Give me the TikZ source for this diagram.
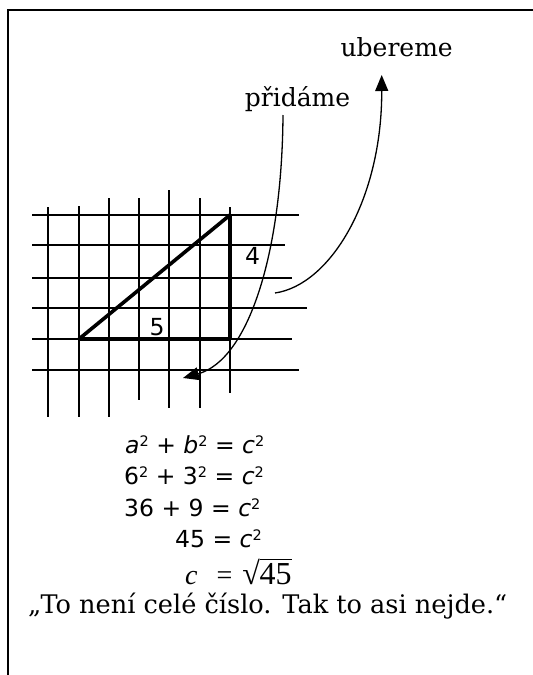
\documentclass[tikz,border=0pt]{standalone}
\usepackage{fontspec}
\setmainfont{DejaVu Serif}
\newfontfamily\eqf{DejaVu Sans}
\newfontfamily\tnr{Liberation Serif}
\usetikzlibrary{arrows.meta}
\newcommand{\sqd}{\raisebox{0.28em}{\fontsize{14.5}{14.5}\selectfont 2}}
\newsavebox\myradbox
\newsavebox\mynumbox
\newcommand{\myroot}[1]{\sbox\myradbox{√}\sbox\mynumbox{#1}\usebox\myradbox\kern-0.4pt\rlap{\rule[\dimexpr\ht\myradbox-1pt\relax]{\wd\mynumbox}{1pt}}\usebox\mynumbox}
\tikzset{
  frameline/.style={line width=2pt},
  gridline/.style={line width=1.8pt},
  triline/.style={line width=3.6pt, line join=bevel},
  curvearrow/.style={line width=1.3pt, -{Triangle[length=16pt,width=13pt]}},
  serlabel/.style={inner sep=0pt, anchor=base, font=\fontsize{25}{29}\selectfont},
  eqline/.style={inner sep=0pt, anchor=base west, font=\eqf\fontsize{23.5}{27}\selectfont},
  numlabel/.style={inner sep=0pt, font=\eqf\fontsize{23.5}{27}\selectfont},
}
\begin{document}
\begin{tikzpicture}[x=1pt,y=-1pt]
\useasboundingbox (0,0) rectangle (533,675);
% frame
\coordinate (fb) at (8,675);
\coordinate (fc) at (8,10);
\coordinate (fr) at (533,10);
\draw[frameline] (fb) -- (fc) -- (fr);
% grid
\foreach \y/\r in {215/299,245/285,278/292,308/307,339/292,370/299}
  \draw[gridline] (32,\y) -- (\r,\y);
\foreach \x/\t/\b in {48/207/417,79/206/417,109/198/417,139/198/400,169/190/408,200/198/408,230/207/393}
  \draw[gridline] (\x,\t) -- (\x,\b);
% triangle
\coordinate (A) at (79,339);
\coordinate (B) at (230,215);
\coordinate (C) at (230,339);
\draw[triline] (A) -- (B) -- (C) -- cycle;
\node[numlabel] (four) at (252.5,256) {4};
\node[numlabel] (five) at (157,327) {5};
% labels
\node[serlabel] (ub) at (396.7,56.7) {ubereme};
\node[serlabel] (pr) at (297.5,106.7) {přidáme};
% arrows
\coordinate (p0) at (283,115);
\coordinate (p3) at (183,378);
\draw[curvearrow] (p0) .. controls (282,255) and (248,360) .. (p3);
\coordinate (q0) at (275,293);
\coordinate (q3) at (381.7,75);
\draw[curvearrow] (q0) .. controls (330,285) and (382,200) .. (q3);
% equations
\node[eqline] (e1) at (125,453) {\itshape a\upshape\sqd{} + \itshape b\upshape\sqd{} = \itshape c\upshape\sqd};
\node[eqline] (e2) at (124,484) {6\sqd{} + 3\sqd{} = \itshape c\upshape\sqd};
\node[eqline] (e3) at (124,516) {36 + 9 = \itshape c\upshape\sqd};
\node[eqline] (e4) at (175,547) {45 = \itshape c\upshape\sqd};
\node[inner sep=0pt, anchor=base west, font=\tnr\fontsize{28}{30}\selectfont] (e5) at (185,584) {\itshape c\upshape\hspace{19pt}=\hspace{10pt}{\fontsize{32}{34}\selectfont\myroot{45}}};
% quote
\node[inner sep=0pt, anchor=base west, font=\fontsize{25.6}{29}\selectfont] (q) at (28,613) {„To není celé číslo. Tak to asi nejde.“};
\end{tikzpicture}
\end{document}
